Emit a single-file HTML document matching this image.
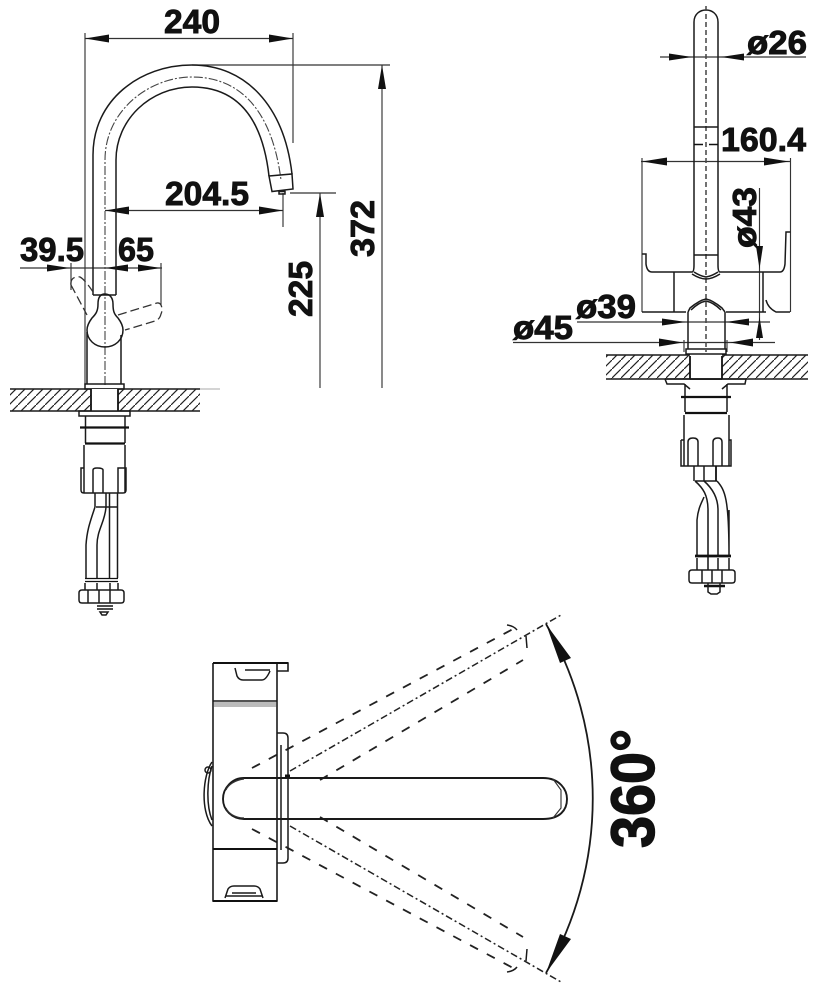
<!DOCTYPE html>
<html><head><meta charset="utf-8"><style>
html,body{margin:0;padding:0;background:#fff}
svg{display:block}
text{font-family:"Liberation Sans",sans-serif;font-weight:700;font-size:33px;fill:#111;stroke:#111;stroke-width:.9px}
.l{fill:none;stroke:#1a1a1a;stroke-width:1.500}
.t{fill:none;stroke:#333;stroke-width:1.150}
.b{fill:none;stroke:#111;stroke-width:2.400}
.c{fill:none;stroke:#444;stroke-width:1.100;stroke-dasharray:9 2 2 2}
.d{fill:none;stroke:#222;stroke-width:1.800;stroke-dasharray:9 10}
.dc{fill:none;stroke:#222;stroke-width:1.500;stroke-dasharray:7 3 2 3}
.a{fill:#111;stroke:none}
</style></head><body>
<svg width="820" height="994" viewBox="0 0 820 994" xmlns="http://www.w3.org/2000/svg">
<defs>
<pattern id="h" width="9" height="9" patternUnits="userSpaceOnUse"><path d="M-1 10L10 -1" stroke="#222" stroke-width="1.200"/></pattern>
</defs>
<!-- LEFT FAUCET -->
<path class="t" d="M85 33V385M293 33V143M192 65H390M290 193H336M283 193V227M71 263V290M161 263V305"/>
<path class="t" d="M85 38.500H293M105 210.500H283M20 268H162M382 65V388M320 193V388"/>
<polygon class="a" points="85,38.500 109,34.500 109,42.500"/><polygon class="a" points="293,38.500 269,34.500 269,42.500"/>
<polygon class="a" points="105,210.500 129,206.500 129,214.500"/><polygon class="a" points="283,210.500 259,206.500 259,214.500"/>
<polygon class="a" points="70,268 47,264.500 47,271.500"/><polygon class="a" points="105,268 128,264.500 128,271.500"/><polygon class="a" points="161,268 138,264.500 138,271.500"/>
<polygon class="a" points="382,65 378,89 386,89"/><polygon class="a" points="320,193 316,217 324,217"/>
<path class="l" d="M93 295V155C93 100 140 65 192 65C245 65 284 105 292 174M116 295V160C116 120 150 87 192 87C235 87 262 115 269 176"/>
<path class="c" d="M105 385V160C105 110 150 77 192 77C240 77 272 110 281 180"/>
<path class="l" d="M269 176L292 174L293 189L272 191.500ZM279 191.500H285V194H279Z"/>
<path class="l" d="M93 295H116"/>
<path class="t" style="stroke-dasharray:9 4;stroke-width:1.300" d="M71 285C70 278 76 276 80 277C84 279 90 287 95 295M71 285L87 315M118 315L157 303C162 302 163 310 161 314C160 318 158 320 155 321L125 330"/>
<path class="l" d="M105 294C100 294 98 298 98 304C98 311 96 314 92 318C89 322 87 326 87 330C87 340 95 347 105 347C115 347 123 340 123 330C123 326 121 322 118 318C114 314 113 311 113 304C113 298 110 294 105 294Z" fill="#fff"/>
<path class="l" d="M87 332V384M121 335V384M85 384H124V389H85Z"/>
<path class="l" d="M10 389H200"/><path d="M200 389H220" stroke="#aaa" stroke-width="1"/><path class="l" d="M10 411H200"/>
<rect x="10" y="389" width="190" height="22" fill="url(#h)"/>
<rect x="91" y="389" width="27" height="22" fill="#fff"/>
<path class="b" d="M91 389V411M118 389V411" style="stroke-width:1.800"/>
<path class="l" d="M79 411H130V416H79ZM85.500 416V443M125 416V443"/>
<path class="b" d="M80 427.500H129M85 443.500H125" style="stroke-width:2.200"/>
<path class="l" d="M84 445V493M125 445V493M84 468H81V490Q81 493 84 493H123Q126 493 126 490V468H118V493M93 493V470Q93 468 97 468Q103 468 103 470V493"/>
<path class="l" d="M95 493V507M106 493V507M96 507H117M109.500 493V578M117.500 493V578M95 507C90 522 87 530 86 545V578M106 507C105 522 97 530 97 545V578"/>
<path class="b" d="M85 578.500H118M85 581.500H118" style="stroke-width:1.300"/>
<path class="l" d="M85 583V590M97 583V590M110 583V590M118 583V590M79 593Q79 590 82 590H121Q124 590 124 593V600Q124 603 121 603H82Q79 603 79 600ZM88 590V603M99 590V603M110 590V603"/>
<path class="b" d="M97 606H113M97 609H113" style="stroke-width:1.500"/><path class="l" d="M100 612H108L106 615H102Z"/>

<!-- RIGHT FAUCET -->
<path class="t" d="M660 57H806M641 161.500H790M642 158V312M790.500 158V312M759.500 188V340M577 322H770M513 342.500H775M684 340V352M727 340V352"/>
<polygon class="a" points="692,57 669,53.500 669,60.500"/><polygon class="a" points="721,57 744,53.500 744,60.500"/>
<polygon class="a" points="642,161.500 667,157.500 667,165.500"/><polygon class="a" points="789,161.500 764,157.500 764,165.500"/>
<polygon class="a" points="759.500,269 756,246 763,246"/><polygon class="a" points="759.500,317 756,338 763,338"/>
<polygon class="a" points="686,322 662,318.500 662,325.500"/><polygon class="a" points="726,322 749,318.500 749,325.500"/>
<polygon class="a" points="683,342.500 659,338.500 659,346.500"/><polygon class="a" points="730,342.500 753,338.500 753,346.500"/>
<path class="l" d="M694 255V22C694 14 700 10 706 10C712 10 718 14 718 22V255"/>
<path class="c" d="M706 6V352" style="stroke-width:1.500;stroke-dasharray:5 3"/>
<path class="l" d="M694 127H718M694 255H718M694 255V265Q694 272 692 272M718 255V265Q718 272 720 272M694 272Q700 276 706 277Q712 276 718 272M692 274Q700 279 706 279Q712 279 720 274"/>
<path class="b" d="M694 144.500H703M709 144.500H718" style="stroke-width:1.600"/>
<path class="l" d="M642 254H646V264Q647 272 652 272H692M720 272H780Q784 272 785 264L786 232H790.500M674 272V312M642 312H686M726 312H766M763 272V312M766 300Q768 308 776 312H790"/>
<path class="l" d="M688 312L690 308C696 303 701 300 706 299C711 300 716 303 722 308L725 312M688 312V349M725 312V349M691 310C696 305 701 302 706 301C711 302 716 305 721 310"/>
<path class="l" d="M686 349H726V354H686Z"/>
<path class="l" d="M606 355H690M722 355H808M606 379H808"/>
<rect x="606" y="355" width="202" height="24" fill="url(#h)"/>
<rect x="690" y="355" width="32" height="24" fill="#fff"/>
<path class="b" d="M690 356V379M722 356V379" style="stroke-width:1.800"/>
<path class="b" d="M690 379H722" style="stroke-width:1.800"/>
<path class="l" d="M665 379H746L745 384H728L722 389M665 379L667 384H684L690 389M685 384V412M727 384V412"/>
<path class="b" d="M681 397H731M685 413H727" style="stroke-width:2.200"/>
<path class="l" d="M684 415V466M729 415V466M681 440V466H731V440H729M681 440H684M688 466V442Q688 438 693 438Q698 438 698 442V466M713 466V442Q713 438 718 438Q722 438 722 442V466"/>
<path class="l" d="M694 466V481M704 466V481M697 556V520C698 508 702 502 704 497M695 481C703 488 708 495 708 510M704 481C712 488 718 498 718 510V556M729 510V556C729 498 725 490 717 481M695 481H717"/>
<path class="b" d="M708 510V570" style="stroke-width:1.500"/>
<path class="b" d="M716 466V481" style="stroke-width:1.800"/>
<path class="b" d="M695 556H731" style="stroke-width:2.800"/>
<path class="l" d="M697 558V570M718 558V570M729 558V570M689 573Q689 570 692 570H732Q735 570 735 573V580Q735 583 732 583H692Q689 583 689 580ZM702 570V583M712 570V583M722 570V583"/>
<path class="b" d="M704 586H725" style="stroke-width:2.500"/><path class="l" d="M708 583V592L711 594H717L720 592V583"/>

<!-- TOP VIEW -->
<path class="d" d="M252 768L515 628"/>
<path class="dc" d="M290 771L561 615"/>
<path class="d" d="M320 780L523 660"/>
<path class="d" d="M252 829L515 969"/>
<path class="dc" d="M290 826L561 982"/>
<path class="d" d="M320 817L523 937"/>
<path class="l" d="M507 625Q514 626 517 630M526 636L527 648M526 961L527 949M507 972Q514 971 517 967"/>
<path class="l" d="M546 624A349 349 0 0 1 546 973" style="stroke-width:1.800"/>
<polygon class="a" points="546,624 571,658 560,663"/><polygon class="a" points="546,973 571,939 560,934"/>
<path class="l" d="M213 663H288V671H277M213 663V901H277V663" style="stroke-width:1.600"/>
<path class="b" d="M213 663H288M213 901H277M213 849H277" style="stroke-width:2"/>
<path class="l" d="M235 668L237 676Q239 680 243 680H262Q266 680 270 671M245 670H270"/>
<rect x="214" y="702" width="62" height="5" fill="#bbb"/><path class="l" d="M213 701H277"/>
<path class="l" d="M225 898L228 889Q230 886 234 886H254Q258 886 260 889L263 898M226 896H262M232 893H256"/>
<path class="l" d="M277 733H283Q288 733 288 738V858Q288 863 283 863H277M281 745V850"/>
<path class="l" d="M212 762C203 775 200 810 212 826M212 766C207 780 206 805 212 820"/><circle cx="208" cy="770" r="3" class="l"/>
<path class="l" d="M244 778H543C560 778 567 790 567 799C567 810 560 819 543 819H244C232 819 223 810 223 799C223 788 232 778 244 778Z" fill="#fff" style="stroke-width:1.900"/>
<path class="t" d="M553 779L561 790V808L553 818M226 790C228 785 235 780 244 779M226 808C228 813 235 818 244 818"/>
<path class="b" d="M285 776H290" style="stroke-width:3"/>
<!-- LABELS -->
<text x="164" y="33" textLength="56" lengthAdjust="spacingAndGlyphs">240</text>
<text x="165" y="205" textLength="84" lengthAdjust="spacingAndGlyphs">204.5</text>
<text x="20" y="261" textLength="64" lengthAdjust="spacingAndGlyphs">39.5</text>
<text x="118" y="261" textLength="36" lengthAdjust="spacingAndGlyphs">65</text>
<text transform="translate(374 257) rotate(-90)" textLength="57" lengthAdjust="spacingAndGlyphs">372</text>
<text transform="translate(312 317) rotate(-90)" textLength="56" lengthAdjust="spacingAndGlyphs">225</text>
<text x="747" y="54" textLength="60" lengthAdjust="spacingAndGlyphs">ø26</text>
<text x="721" y="151" textLength="85" lengthAdjust="spacingAndGlyphs">160.4</text>
<text transform="translate(756 248) rotate(-90)" textLength="61" lengthAdjust="spacingAndGlyphs">ø43</text>
<text x="576" y="318" textLength="60" lengthAdjust="spacingAndGlyphs">ø39</text>
<text x="513" y="339" textLength="60" lengthAdjust="spacingAndGlyphs">ø45</text>
<text transform="translate(654 848) rotate(-90)" style="font-size:61px;stroke-width:1.400px" textLength="119" lengthAdjust="spacingAndGlyphs">360°</text>
</svg>
</body></html>
